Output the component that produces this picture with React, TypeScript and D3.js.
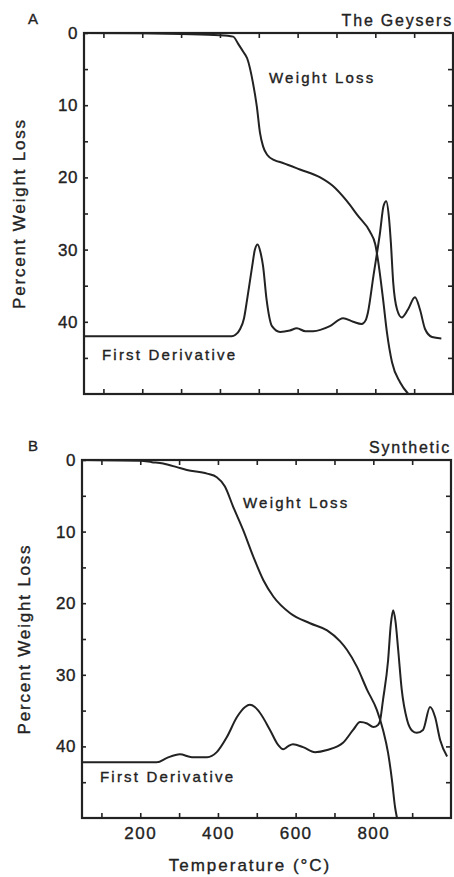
import React, { useEffect, useRef } from 'react';
import * as d3 from 'd3';

// Panel A - The Geysers
const geysersWeightT = [50, 200, 300, 400, 434, 447, 460, 470, 485, 495, 503, 511, 522, 540, 562, 606, 658, 691, 727, 755, 786, 800, 807, 820, 830, 843, 864, 885];
const geysersWeight = [0, 0.05, 0.15, 0.3, 0.5, 1.5, 2.6, 3.5, 6.9, 10.2, 13.8, 15.7, 16.9, 17.6, 18.0, 18.9, 20.0, 21.2, 23.3, 25.3, 27.5, 29.3, 31.5, 36.9, 41.5, 45.6, 48.4, 50];
const geysersDerivT = [50, 430, 440, 452, 462, 470, 483, 490, 497, 504, 511, 520, 534, 555, 580, 598, 620, 640, 683, 717, 743, 765, 775, 781, 795, 812, 821, 828, 835, 840, 846, 856, 868, 884, 902, 915, 928, 946, 970];
const geysersDeriv = [42, 42, 41.8, 41.0, 39.5, 36.9, 32.3, 30.0, 29.3, 30.3, 32.3, 36.9, 40.6, 41.4, 41.2, 40.9, 41.3, 41.3, 40.6, 39.5, 40.0, 40.3, 39.8, 38.7, 33.7, 27.7, 24.0, 23.3, 25.5, 29, 34.5, 38.3, 39.4, 38.3, 36.6, 38.3, 41.0, 42.1, 42.3];

// Panel B - Synthetic
const syntheticWeightT = [50, 200, 230, 259, 294, 320, 372, 397, 418, 439, 465, 491, 517, 543, 586, 637, 681, 714, 732, 758, 784, 809, 825, 838, 848, 856, 861];
const syntheticWeight = [0, 0.1, 0.3, 0.5, 1.0, 1.4, 1.9, 2.4, 3.7, 6.5, 9.8, 13.5, 16.8, 19.1, 21.4, 22.8, 23.8, 25.3, 26.5, 28.9, 32.1, 34.9, 37.7, 40.9, 44.7, 48.5, 50];
const syntheticDerivT = [50, 243, 269, 302, 333, 372, 397, 423, 449, 470, 482, 495, 508, 534, 555, 568, 580, 593, 619, 650, 681, 722, 748, 766, 784, 800, 812, 817, 825, 838, 845, 851, 857, 864, 873, 887, 900, 912, 928, 946, 959, 972, 990];
const syntheticDeriv = [42.2, 42.2, 41.6, 41.1, 41.5, 41.5, 40.8, 38.7, 35.9, 34.5, 34.2, 34.5, 35.3, 37.7, 39.8, 40.4, 40.0, 39.7, 40.1, 40.8, 40.5, 39.5, 37.7, 36.6, 36.8, 37.3, 37.0, 36.5, 33.5, 28, 23, 21, 22.5, 26.5, 32, 36.3, 37.8, 38.1, 37.7, 34.5, 35.9, 39.1, 41.4];

const xTicks = [100, 200, 300, 400, 500, 600, 700, 800, 900];
const xTickLabels = [200, 400, 600, 800];
const yTicks = [0, 5, 10, 15, 20, 25, 30, 35, 40, 45];
const yTickLabels = [0, 10, 20, 30, 40];

const panels = [
  {
    letter: 'A', title: 'The Geysers', left: 84, right: 453, top: 33, bottom: 394,
    weightT: geysersWeightT, weight: geysersWeight, derivT: geysersDerivT, deriv: geysersDeriv,
    weightLabel: [269, 83], derivLabel: [102, 360], yLabelX: 25, xLabels: false,
  },
  {
    letter: 'B', title: 'Synthetic', left: 82, right: 451, top: 460, bottom: 818,
    weightT: syntheticWeightT, weight: syntheticWeight, derivT: syntheticDerivT, deriv: syntheticDeriv,
    weightLabel: [243, 508], derivLabel: [100, 782], yLabelX: 30, xLabels: true,
  },
];

const FONT = '"Liberation Sans", Arial, Helvetica, sans-serif';
const INK = '#222';

const App = () => {
  const ref = useRef(null);

  useEffect(() => {
    const svg = d3.select(ref.current);
    svg.selectAll('*').remove();
    svg.style('font-family', FONT);

    // scanned print looks a bit heavier than plain regular type
    const ink = (sel) => sel.attr('fill', INK).attr('stroke', INK).attr('stroke-width', 0.35);

    panels.forEach((p) => {
      const x = d3.scaleLinear().domain([50, 1000]).range([p.left, p.right]);
      const y = d3.scaleLinear().domain([0, 50]).range([p.top, p.bottom]);
      const g = svg.append('g');

      // ticks on all four sides, pointing inward
      const styleAxis = (sel) => {
        sel.select('.domain').remove();
        sel.selectAll('line').attr('stroke', INK).attr('stroke-width', 1.6);
        sel.selectAll('text').attr('font-family', FONT).call(ink);
      };

      g.append('g')
        .attr('transform', `translate(${p.left},0)`)
        .call(d3.axisLeft(y).tickValues(yTicks).tickSize(-4).tickPadding(6)
          .tickFormat((d) => (yTickLabels.includes(d) ? String(d) : '')))
        .call(styleAxis)
        .call((s) => s.selectAll('text').attr('font-size', 17).attr('letter-spacing', 0.5));

      g.append('g')
        .attr('transform', `translate(${p.right},0)`)
        .call(d3.axisRight(y).tickValues(yTicks.slice(1)).tickSize(-5).tickFormat(() => ''))
        .call(styleAxis);

      g.append('g')
        .attr('transform', `translate(0,${p.top})`)
        .call(d3.axisTop(x).tickValues(xTicks).tickSize(-5).tickFormat(() => ''))
        .call(styleAxis);

      g.append('g')
        .attr('transform', `translate(0,${p.bottom})`)
        .call(d3.axisBottom(x).tickValues(xTicks).tickSize(-5).tickPadding(9)
          .tickFormat((d) => (p.xLabels && xTickLabels.includes(d) ? String(d) : '')))
        .call(styleAxis)
        .call((s) => s.selectAll('text').attr('font-size', 17).attr('letter-spacing', 1.5));

      // frame
      g.append('rect')
        .attr('x', p.left).attr('y', p.top)
        .attr('width', p.right - p.left).attr('height', p.bottom - p.top)
        .attr('fill', 'none').attr('stroke', INK).attr('stroke-width', 2.2);

      const line = d3.line()
        .x((d) => x(d[0]))
        .y((d) => y(d[1]))
        .curve(d3.curveMonotoneX);

      g.append('path')
        .attr('d', line(p.weightT.map((t, i) => [t, p.weight[i]])))
        .attr('fill', 'none').attr('stroke', INK).attr('stroke-width', 2);

      g.append('path')
        .attr('d', line(p.derivT.map((t, i) => [t, p.deriv[i]])))
        .attr('fill', 'none').attr('stroke', INK).attr('stroke-width', 2);

      // labels
      g.append('text').attr('x', 28).attr('y', p.top - 9).attr('font-size', 15)
        .call(ink).text(p.letter);
      g.append('text').attr('x', p.right).attr('y', p.top - 7).attr('font-size', 16)
        .attr('text-anchor', 'end').attr('letter-spacing', 1.8).call(ink).text(p.title);
      g.append('text').attr('x', p.weightLabel[0]).attr('y', p.weightLabel[1]).attr('font-size', 15)
        .attr('letter-spacing', 2.2).call(ink).text('Weight Loss');
      g.append('text').attr('x', p.derivLabel[0]).attr('y', p.derivLabel[1]).attr('font-size', 15)
        .attr('letter-spacing', 2.2).call(ink).text('First Derivative');
      g.append('text')
        .attr('transform', `translate(${p.yLabelX},${(p.top + p.bottom) / 2}) rotate(-90)`)
        .attr('text-anchor', 'middle').attr('font-size', 17).attr('letter-spacing', 1.8)
        .call(ink).text('Percent Weight Loss');
    });

    svg.append('text')
      .attr('x', 250).attr('y', 871).attr('text-anchor', 'middle')
      .attr('font-size', 17).attr('letter-spacing', 2).call(ink)
      .text('Temperature (°C)');
  }, []);

  return (
    <svg ref={ref} width={454} height={877}
      style={{ position: 'absolute', left: 0, top: 0, background: '#fff' }} />
  );
};

export default App;
